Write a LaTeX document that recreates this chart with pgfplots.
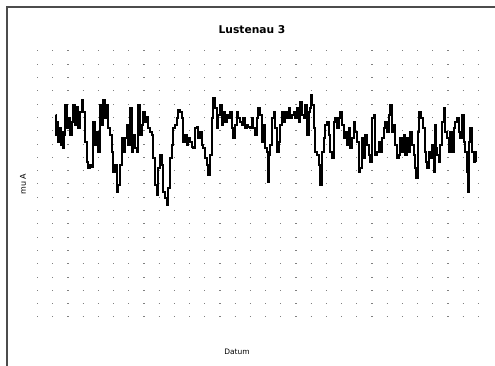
\documentclass[border=0pt]{standalone}
\usepackage{pgfplots}
\pgfplotsset{compat=1.18}
\usepackage{fontspec}
\setmainfont{DejaVu Sans}
\begin{document}
\begin{tikzpicture}[x=1pt,y=1pt]
\useasboundingbox (0,0) rectangle (495,366);
\fill[white] (0,0) rectangle (495,366);
\draw[black!70, line width=1.2pt] (7,0) -- (7,359) -- (495,359);
\begin{axis}[
  at={(37pt,46pt)}, anchor=south west,
  scale only axis, width=443pt, height=272pt,
  xmin=37, xmax=480, ymin=46, ymax=318,
  axis line style={draw=none},
  ytick={49,62.3,75.6,88.9,102.2,115.5,128.8,142.1,155.4,168.7,182,195.3,208.6,221.9,235.2,248.5,261.8,275.1,288.4,301.7,315},
  yticklabels={}, xtick=\empty,
  ymajorgrids, major tick length=0pt,
  major grid style={black!50, line width=1pt, dash pattern=on 1.2pt off 14pt},
  clip=false,
]
\addplot[black, line width=2pt, const plot, line join=miter] coordinates {
(56.0,251) (56.3,231) (57.3,244.3) (58.3,224.3) (59.3,237.7) (60.7,221) (61.7,234.3) (62.7,217.7) (64,231) (65,261)
(66.7,237.7) (68.3,247.7) (70,231) (71.7,244.3) (73.3,261) (75,241) (76.7,259.3) (78.3,237.7) (80,254.3) (81.7,266)
(83.3,254.3) (85,224.3) (86.7,204.3) (88.3,197.7) (90,201) (91.7,199.3) (93.3,244.3) (95,221) (96.7,234.3) (98.3,214.3)
(100,261) (101.7,241) (103.3,266) (105,247.7) (106.7,261) (108.3,237.7) (110,231) (111.7,214.3) (113.3,194.3) (115,201)
(116.7,174.3) (118.3,181) (120,201) (121.7,227.7) (123.3,214.3) (125,227.7) (126.7,241) (128.3,221) (130,257.7) (131.7,214.3)
(133.3,231) (135,217.7) (136.7,214.3) (138.3,261) (140,231) (141.7,241) (143.3,254.3) (145,244.3) (146.7,249.3) (148.3,237.7)
(150,234.3) (151.7,231) (153.3,207.7) (155,181) (156.7,171) (158.3,197.7) (160,211) (161.7,201) (163.3,174.3) (165,167.7)
(166.7,161) (168.3,177.7) (170,207.7) (171.7,221) (173.3,237.7) (175,241) (176.7,247.7) (178.3,256) (180,254.3) (181.7,247.7)
(183.3,224.3) (185,231) (186.7,221) (188.3,227.7) (190,224.3) (191.7,219.3) (193.3,217.7) (195,237.7) (196.7,239.3) (198.3,227.7)
(200,234.3) (201.7,221) (203.3,217.7) (205,207.7) (206.7,201) (208.3,191) (210,211) (211.7,247.7) (212.7,267.7) (215,257.7)
(216.7,237.7) (218.3,251) (220,261) (221.7,241) (223.3,254.3) (225,244.3) (226.7,251) (228.3,247.7) (230,254.3) (231.7,237.7)
(233.3,227.7) (235,241) (236.7,254.3) (238.3,247.7) (240,244.3) (241.7,241) (243.3,247.7) (245,237.7) (246.7,241) (248.3,239.3)
(250,237.7) (251.7,247.7) (253.3,237.7) (255,231) (256.7,247.7) (258.3,257.7) (260,251) (261.7,231)
(262,224.3) (263.7,241) (265.3,217.7) (267,214.3) (268,184.3) (269.3,211) (270.3,221) (272,247.7) (273.7,254.3) (275.3,237.7)
(277,214.3) (278.7,224.3) (280.3,241) (282,254.3) (283.7,244.3) (285.3,254.3) (287,247.7) (288.7,257.7) (290.3,247.7) (292,251)
(293.7,254.3) (295.3,247.7) (297,257.7) (298.7,244.3) (300.3,264.3) (302,251) (303.7,247.7) (305.3,261) (307,231) (308.7,254.3)
(310.3,257.7) (311.3,271) (312,261) (313.7,237.7) (315.3,214.3) (317,211) (318.7,201) (320.3,181) (322,214.3) (323.7,227.7)
(325.3,241) (327,244.3) (328.7,231) (330.3,214.3) (332,207.7) (333.7,244.3) (335.3,247.7) (337,237.7) (338.7,247.7) (340.3,254.3)
(342,241) (343.7,227.7) (345.3,234.3) (347,221) (348.7,237.7) (350.3,217.7) (352,227.7) (353.7,244.3) (355.3,234.3) (357,224.3)
(358.7,194.3) (360.3,197.7) (362,227.7) (363.7,207.7) (365.3,231) (367,221) (368.7,211) (370.3,204.3) (372,247.7) (373.7,251)
(375.3,211) (377,214.3) (378.7,224.3) (380.3,214.3) (382,227.7) (383.7,237.7) (385.3,244.3) (387,234.3) (388.7,251) (390.3,261)
(392,234.3) (393.7,241) (395.3,221) (397,207.7) (398.7,211) (400.3,227.7) (402,214.3) (403.7,231) (405.3,211) (407,227.7)
(408.7,214.3) (410.3,234.3) (412,221) (413.7,211) (415.3,197.7) (416.3,187.7) (418,234.3) (419.3,254.3) (421.3,247.7) (422.7,237.7)
(424.7,214.3) (426,204.3) (427,197.7) (428.7,214.3) (430.3,207.7) (432,221) (433.7,194.3) (434.7,241) (436,217.7) (437,211)
(438.7,204.3) (440.3,221) (442,244.3) (443.7,257.7) (445.3,234.3) (447,227.7) (448.7,214.3) (450.3,234.3) (452,214.3) (453.7,237.7)
(455.3,244.3) (457,247.7) (458.7,234.3) (460.3,227.7) (462,251) (463.7,224.3) (465.3,214.3) (467,194.3) (468,174.3) (469.3,224.3)
(470.3,237.7) (472,214.3) (473.7,204.3) (475.3,214.3) (476.3,204.3)
};
\end{axis}
\node[font=\bfseries\fontsize{10.7}{13}\selectfont] at (252,336) {Lustenau 3};
\node[font=\fontsize{8}{10}\selectfont, rotate=90] at (23,182) {mu A};
\node[font=\fontsize{7.5}{9}\selectfont] at (237,14) {Datum};
\end{tikzpicture}
\end{document}
